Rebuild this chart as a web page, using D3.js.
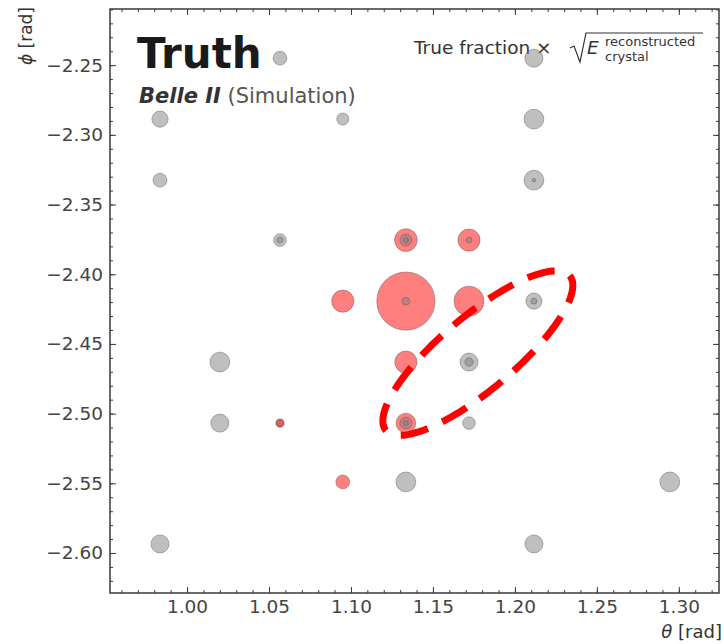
<!DOCTYPE html>
<html>
<head>
<meta charset="utf-8">
<script src="https://cdn.jsdelivr.net/npm/d3@7"></script>
<style>
body { margin: 0; background: #fff; }
text { font-family: "DejaVu Sans", sans-serif; }
</style>
</head>
<body>
<svg></svg>
<script>
const width = 724,
    height = 644

// crystal centres (theta, phi) in rad
const crystalTheta = [1.0567, 0.9835, 1.0950, 1.2116, 1.2116, 0.9835, 1.2116, 1.0567, 1.1335, 1.1720, 1.0950, 1.1335, 1.1720,
    1.2116, 1.0200, 1.1335, 1.1720, 1.0200, 1.0567, 1.1335, 1.1720, 1.0950, 1.1335, 1.2945, 0.9835, 1.2116]
const crystalPhi = [-2.2450, -2.2887, -2.2887, -2.2450, -2.2887, -2.3325, -2.3325, -2.3755, -2.3755, -2.3755, -2.4193, -2.4193, -2.4193,
    -2.4193, -2.4630, -2.4630, -2.4630, -2.5068, -2.5068, -2.5068, -2.5068, -2.5490, -2.5490, -2.5490, -2.5935, -2.5935]

// marker sizes: true fraction x sqrt(E) for background (gray) and signal (red)
const backgroundSize = [0.23, 0.27, 0.20, 0.30, 0.33, 0.23, 0.33, 0.21, 0, 0, 0, 0, 0,
    0.27, 0.33, 0, 0.30, 0.30, 0.14, 0, 0.21, 0, 0.33, 0.33, 0.30, 0.30]
const signalSize = [0, 0, 0, 0, 0, 0, 0, 0, 0.38, 0.37, 0.37, 0.97, 0.50,
    0, 0, 0.37, 0, 0, 0.13, 0.33, 0, 0.23, 0, 0, 0, 0]
const overlaySize = [0, 0, 0, 0, 0, 0, 0, 0, 0.20, 0, 0, 0, 0,
    0, 0, 0, 0.14, 0, 0, 0.20, 0, 0, 0, 0, 0, 0]
const coreSize = [0, 0, 0, 0, 0, 0, 0.06, 0.10, 0.08, 0.10, 0, 0.13, 0,
    0.10, 0, 0, 0, 0, 0, 0.08, 0, 0, 0, 0, 0, 0]

// cluster ellipse: centre and half axes in (theta, phi)
const ellipseCentre = [1.1774, -2.4566]
const ellipseMajor = [0.0561, 0.0554]
const ellipseMinor = [0.0145, -0.0203]

const xTicks = [1.00, 1.05, 1.10, 1.15, 1.20, 1.25, 1.30]
const yTicks = [-2.25, -2.30, -2.35, -2.40, -2.45, -2.50, -2.55, -2.60]

const svg = d3.select('svg').attr('width', width).attr('height', height)

const x = d3.scaleLinear().domain([0.953, 1.3245]).range([110, 719])
const y = d3.scaleLinear().domain([-2.2097, -2.6287]).range([9, 593])
const r = d3.scaleLinear().domain([0, 1]).range([0, 30])

const fmt = d3.format('.2f')
const axisColor = '#3a3a3a'

function styleAxis(g) {
    g.select('.domain').remove()
    g.selectAll('line').attr('stroke', axisColor).attr('stroke-width', 1)
    g.selectAll('text').attr('fill', '#444').style('font-size', '18.5px').style('font-family', '"DejaVu Sans", sans-serif')
}

const minorX = d3.range(0.96, 1.3245, 0.01)
const minorY = d3.range(-2.62, -2.2097, 0.01)

// ticks, all pointing inwards
svg.append('g').attr('transform', 'translate(0,593)')
    .call(d3.axisBottom(x).tickValues(minorX).tickSize(-3).tickFormat('')).call(styleAxis)
svg.append('g').attr('transform', 'translate(0,9)')
    .call(d3.axisTop(x).tickValues(minorX).tickSize(-3).tickFormat('')).call(styleAxis)
svg.append('g').attr('transform', 'translate(110,0)')
    .call(d3.axisLeft(y).tickValues(minorY).tickSize(-3).tickFormat('')).call(styleAxis)
svg.append('g').attr('transform', 'translate(719,0)')
    .call(d3.axisRight(y).tickValues(minorY).tickSize(-3).tickFormat('')).call(styleAxis)

svg.append('g').attr('transform', 'translate(0,593)')
    .call(d3.axisBottom(x).tickValues(xTicks).tickSize(-6).tickPadding(7).tickFormat(fmt)).call(styleAxis)
svg.append('g').attr('transform', 'translate(0,9)')
    .call(d3.axisTop(x).tickValues(xTicks).tickSize(-6).tickFormat('')).call(styleAxis)
svg.append('g').attr('transform', 'translate(110,0)')
    .call(d3.axisLeft(y).tickValues(yTicks).tickSize(-6).tickPadding(7).tickFormat(fmt)).call(styleAxis)
svg.append('g').attr('transform', 'translate(719,0)')
    .call(d3.axisRight(y).tickValues(yTicks).tickSize(-6).tickFormat('')).call(styleAxis)

svg.append('rect')
    .attr('x', 110).attr('y', 9).attr('width', 609).attr('height', 584)
    .attr('fill', 'none').attr('stroke', axisColor).attr('stroke-width', 1.5)

// axis labels
svg.append('text')
    .attr('x', 722).attr('y', 638).attr('text-anchor', 'end')
    .style('font-size', '18px').attr('fill', '#333')
    .html('<tspan font-style="italic">θ</tspan> [rad]')
svg.append('text')
    .attr('transform', 'translate(32,7) rotate(-90)').attr('text-anchor', 'end')
    .style('font-size', '17px').attr('fill', '#333')
    .html('<tspan font-style="italic">ϕ</tspan> [rad]')

// annotations
svg.append('text')
    .attr('x', 137).attr('y', 68)
    .style('font-size', '42px').style('font-weight', 'bold').attr('fill', '#1a1a1a')
    .text('Truth')
svg.append('text')
    .attr('x', 139).attr('y', 103)
    .style('font-size', '21px')
    .html('<tspan font-weight="bold" font-style="italic" fill="#333">Belle II</tspan><tspan fill="#555"> (Simulation)</tspan>')

const formula = svg.append('g').attr('fill', '#333')
formula.append('text')
    .attr('x', 414).attr('y', 54).style('font-size', '18.5px')
    .text('True fraction ×')
formula.append('path')
    .attr('d', d3.line()([[570, 48], [574, 46], [580, 62], [586, 33], [703, 33]]))
    .attr('fill', 'none').attr('stroke', '#333').attr('stroke-width', 1.2)
formula.append('text')
    .attr('x', 587).attr('y', 54).style('font-size', '18.5px').style('font-style', 'italic')
    .text('E')
formula.append('text')
    .attr('x', 605).attr('y', 46).style('font-size', '13px')
    .text('reconstructed')
formula.append('text')
    .attr('x', 605).attr('y', 61).style('font-size', '13px')
    .text('crystal')

// markers
const crystals = crystalTheta.map((t, i) => ({
    theta: t,
    phi: crystalPhi[i],
    background: backgroundSize[i],
    signal: signalSize[i],
    overlay: overlaySize[i],
    core: coreSize[i]
}))

const layers = [
    { key: 'background', fill: 'rgba(128,128,128,0.5)' },
    { key: 'signal', fill: 'rgba(255,0,0,0.5)' },
    { key: 'overlay', fill: 'rgba(128,128,128,0.5)' },
    { key: 'core', fill: 'rgba(128,128,128,0.5)' }
]

layers.forEach((layer) => {
    svg.append('g')
        .selectAll('circle')
        .data(crystals.filter((d) => d[layer.key] > 0))
        .enter().append('circle')
        .attr('cx', (d) => x(d.theta))
        .attr('cy', (d) => y(d.phi))
        .attr('r', (d) => r(d[layer.key]))
        .attr('fill', layer.fill)
        .attr('stroke', 'rgba(90,90,90,0.45)')
        .attr('stroke-width', 1)
})

// dashed cluster ellipse
const ellipsePoints = d3.range(0, 2 * Math.PI + 0.001, Math.PI / 90).map((t) => [
    x(ellipseCentre[0] + ellipseMajor[0] * Math.cos(t) + ellipseMinor[0] * Math.sin(t)),
    y(ellipseCentre[1] + ellipseMajor[1] * Math.cos(t) + ellipseMinor[1] * Math.sin(t))
])
svg.append('path')
    .attr('d', d3.line()(ellipsePoints))
    .attr('fill', 'none')
    .attr('stroke', '#ff0000')
    .attr('stroke-width', 7)
    .attr('stroke-dasharray', '28 16')
</script>
</body>
</html>
